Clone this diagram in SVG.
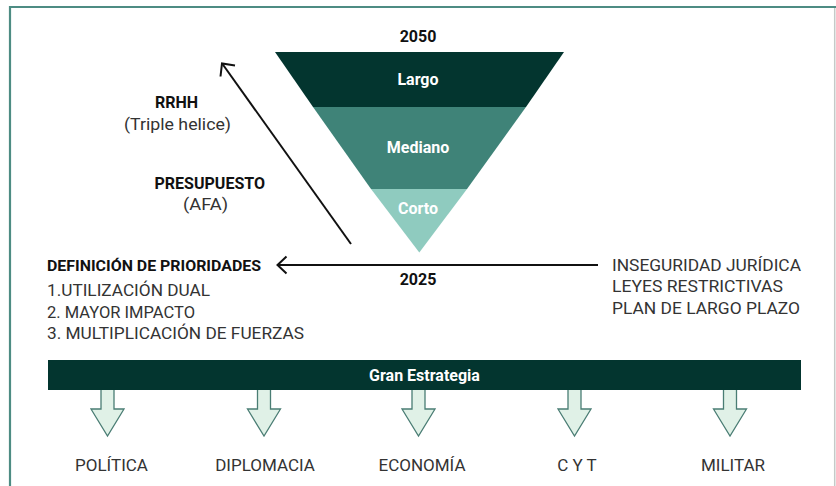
<svg xmlns="http://www.w3.org/2000/svg" width="836" height="486" viewBox="0 0 836 486">
<style>
.b{font-family:Roboto,"Liberation Sans",sans-serif;font-weight:700;fill:#111}
.r{font-family:Roboto,"Liberation Sans",sans-serif;font-weight:400;fill:#333}
.w{font-family:Roboto,"Liberation Sans",sans-serif;font-weight:700;fill:#fff;font-size:16px;text-anchor:middle}
.ln{fill:none;stroke:#111;stroke-width:2}
.da{fill:#e0f1e7;stroke:#4a7d74;stroke-width:1.3;stroke-linejoin:miter}
.lab{font-size:17px;text-anchor:middle}
</style>
<rect width="836" height="486" fill="#fff"/>
<g id="frame">
<path d="M10,486 V7 H836" fill="none" stroke="#4d8c83" stroke-width="2.2"/>
<path d="M834.7,8 V486" fill="none" stroke="#c4cac8" stroke-width="1.5"/>
</g>
<g id="funnel">
<polygon points="275,52 564,52 526,107 313,107" fill="#03352f"/>
<polygon points="313,107 526,107 467,189 371,189" fill="#3f8378"/>
<polygon points="371,189 467,189 419.3,252.5" fill="#8fcbbf"/>
<text class="w" x="418" y="85">Largo</text>
<text class="w" x="418" y="153">Mediano</text>
<text class="w" x="418" y="214">Corto</text>
</g>
<g id="year2050"><text class="b" x="418" y="42" font-size="16" text-anchor="middle">2050</text></g>
<g id="year2025"><text class="b" x="418" y="285" font-size="16" text-anchor="middle">2025</text></g>
<g id="rrhh">
<text class="b" x="176.5" y="108" font-size="16" text-anchor="middle">RRHH</text>
<text class="r" x="124" y="130" font-size="17" textLength="107" lengthAdjust="spacingAndGlyphs">(Triple helice)</text>
</g>
<g id="presupuesto">
<text class="b" x="154.5" y="189" font-size="16" textLength="110.5" lengthAdjust="spacingAndGlyphs">PRESUPUESTO</text>
<text class="r" x="183" y="210" font-size="17" textLength="45" lengthAdjust="spacingAndGlyphs">(AFA)</text>
</g>
<g id="prioridades">
<text class="b" x="47" y="271" font-size="15.5" textLength="214" lengthAdjust="spacingAndGlyphs">DEFINICIÓN DE PRIORIDADES</text>
<text class="r" x="47" y="296" font-size="17" textLength="163" lengthAdjust="spacingAndGlyphs">1.UTILIZACIÓN DUAL</text>
<text class="r" x="47" y="317.5" font-size="17" textLength="148" lengthAdjust="spacingAndGlyphs">2. MAYOR IMPACTO</text>
<text class="r" x="47" y="339" font-size="17" textLength="257" lengthAdjust="spacingAndGlyphs">3. MULTIPLICACIÓN DE FUERZAS</text>
</g>
<g id="obstaculos">
<text class="r" x="612" y="271" font-size="17" textLength="189" lengthAdjust="spacingAndGlyphs">INSEGURIDAD JURÍDICA</text>
<text class="r" x="612" y="292" font-size="17" textLength="171" lengthAdjust="spacingAndGlyphs">LEYES RESTRICTIVAS</text>
<text class="r" x="612" y="313.5" font-size="17" textLength="188" lengthAdjust="spacingAndGlyphs">PLAN DE LARGO PLAZO</text>
</g>
<g id="gran-estrategia">
<rect x="48" y="360" width="753" height="30" fill="#03352f"/>
<text class="w" x="424.5" y="381" font-size="15.5">Gran Estrategia</text>
</g>
<g id="connectors">
<path class="ln" d="M351,244 L222.5,64"/>
<path class="ln" d="M235,65.5 L222,63.5 L220.5,76.5"/>
<path class="ln" d="M598,265 H278"/>
<path class="ln" d="M286.5,256.5 L277.5,265 L286.5,273.5"/>
<g id="down-arrows">
<path class="da" d="M101,390 V409 H91 L107.5,436 L124,409 H114 V390"/>
<path class="da" d="M257.5,390 V409 H247.5 L264,436 L280.5,409 H270.5 V390"/>
<path class="da" d="M412,390 V409 H402 L418.5,436 L435,409 H425 V390"/>
<path class="da" d="M568,390 V409 H558 L574.5,436 L591,409 H581 V390"/>
<path class="da" d="M723.5,390 V409 H713.5 L730,436 L746.5,409 H736.5 V390"/>
</g>
</g>
<g id="politica"><text class="r lab" x="111.5" y="471">POLÍTICA</text></g>
<g id="diplomacia"><text class="r lab" x="265" y="471">DIPLOMACIA</text></g>
<g id="economia"><text class="r lab" x="422" y="471">ECONOMÍA</text></g>
<g id="cyt"><text class="r lab" x="577" y="471">C Y T</text></g>
<g id="militar"><text class="r lab" x="733" y="471">MILITAR</text></g>
</svg>
